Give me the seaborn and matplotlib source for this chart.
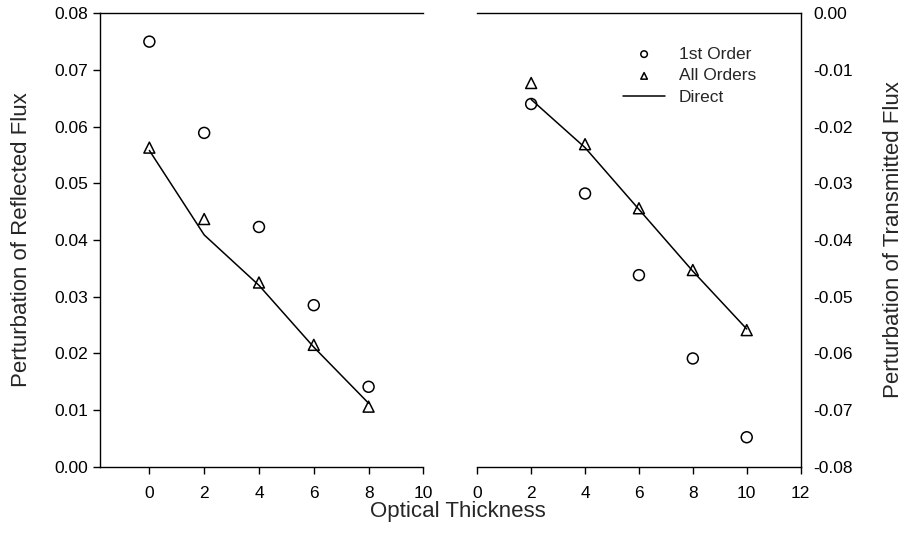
import pandas as pd
import matplotlib.pyplot as plt
import seaborn as sns

# Left panel: reflected flux
tau_r = [0, 2, 4, 6, 8]
refl_first = [0.0750, 0.0589, 0.0423, 0.0285, 0.0141]
refl_all = [0.0563, 0.0437, 0.0325, 0.0215, 0.0106]
refl_direct = [0.0558, 0.0409, 0.0320, 0.0211, 0.0112]

# Right panel: transmitted flux
tau_t = [2, 4, 6, 8, 10]
trans_first = [-0.0160, -0.0318, -0.0462, -0.0609, -0.0748]
trans_all = [-0.0123, -0.0231, -0.0344, -0.0453, -0.0559]
trans_direct = [-0.0152, -0.0237, -0.0346, -0.0455, -0.0557]

left_yticks = [0.00, 0.01, 0.02, 0.03, 0.04, 0.05, 0.06, 0.07, 0.08]
right_yticks = [0.00, -0.01, -0.02, -0.03, -0.04, -0.05, -0.06, -0.07, -0.08]

sns.set_theme(style='ticks')
plt.rcParams['font.family'] = ['Liberation Sans', 'DejaVu Sans']
plt.rcParams['axes.linewidth'] = 1.0

fig = plt.figure(figsize=(9.07, 5.38), dpi=100)
ax1 = fig.add_axes([0.1103, 0.1325, 0.3565, 0.8428])
ax2 = fig.add_axes([0.5262, 0.1325, 0.3565, 0.8428])

fs = 12.5
ms = 62

def draw(ax, x, first, allo, direct, legend):
    df = pd.DataFrame({'x': x, 'first': first, 'all': allo, 'direct': direct})
    sns.scatterplot(data=df, x='x', y='first', marker='o', s=ms, facecolors='none',
                    edgecolor='black', linewidth=1.1, label='1st Order', ax=ax, legend=legend, zorder=3)
    sns.scatterplot(data=df, x='x', y='all', marker='^', s=ms, facecolors='none',
                    edgecolor='black', linewidth=1.1, label='All Orders', ax=ax, legend=legend, zorder=3)
    sns.lineplot(data=df, x='x', y='direct', color='black', linewidth=1.1,
                 label='Direct', ax=ax, legend=legend)
    ax.set_xlabel('')

draw(ax1, tau_r, refl_first, refl_all, refl_direct, False)
draw(ax2, tau_t, trans_first, trans_all, trans_direct, True)

# left axes
ax1.set_xlim(-1.8, 10)
ax1.set_ylim(0, 0.08)
ax1.set_xticks([0, 2, 4, 6, 8, 10])
ax1.set_yticks(left_yticks)
ax1.set_yticklabels([f'{v:.2f}' for v in left_yticks])
ax1.spines['right'].set_visible(False)
ax1.spines['top'].set_visible(True)
ax1.tick_params(axis='both', direction='out', length=5, width=1, labelsize=fs, colors='black')
ax1.tick_params(axis='x', pad=9)
ax1.set_ylabel('Perturbation of Reflected Flux', fontsize=16, labelpad=16)

# right axes
ax2.set_xlim(0, 12)
ax2.set_ylim(-0.08, 0)
ax2.set_xticks([0, 2, 4, 6, 8, 10, 12])
ax2.set_yticks(right_yticks)
ax2.set_yticklabels([f'{v:.2f}' for v in right_yticks])
ax2.spines['left'].set_visible(False)
ax2.spines['right'].set_visible(True)
ax2.spines['top'].set_visible(True)
ax2.yaxis.tick_right()
ax2.yaxis.set_label_position('right')
ax2.tick_params(axis='y', length=0, pad=9, labelsize=fs, colors='black')
ax2.tick_params(axis='x', direction='out', length=5, width=1, labelsize=fs, pad=9, colors='black')
ax2.set_ylabel('Perturbation of Transmitted Flux', fontsize=16, labelpad=22)

for ax in (ax1, ax2):
    for sp in ax.spines.values():
        sp.set_color('black')

ax2.legend(loc='upper left', bbox_to_anchor=(0.43, 0.942), frameon=False, fontsize=fs,
           markerscale=0.6, handlelength=2.4, handletextpad=0.8, labelspacing=0.38, borderaxespad=0)

fig.text(458 / 907, 1 - 511 / 538, 'Optical Thickness', ha='center', va='center', fontsize=16)

fig.savefig('out.png', dpi=100)
